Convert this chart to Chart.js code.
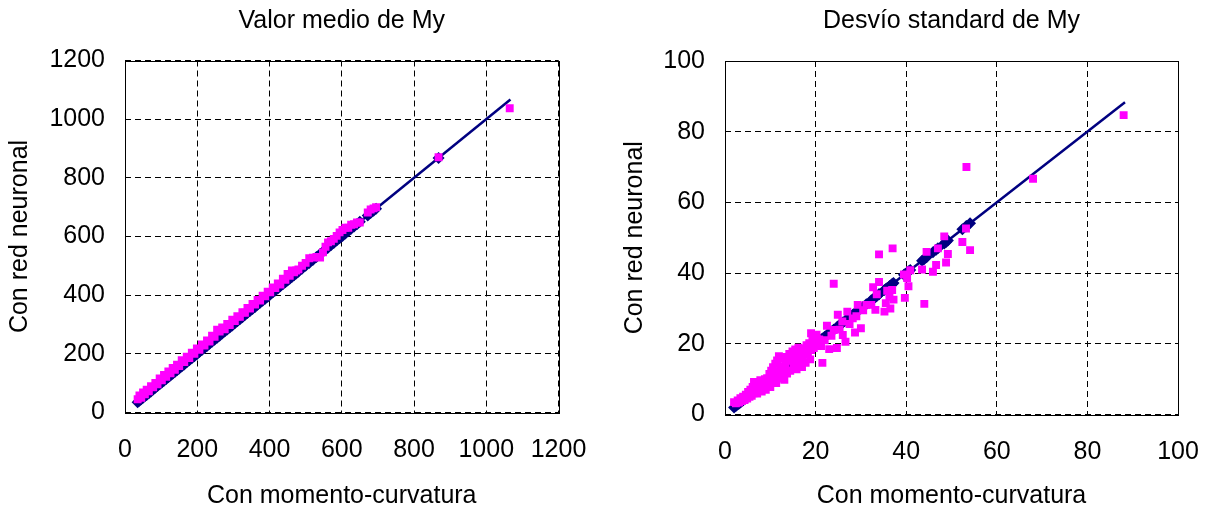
<!DOCTYPE html>
<html lang="es">
<head>
<meta charset="UTF-8">
<title>Valor medio y desvío standard de My</title>
<script src="https://cdn.jsdelivr.net/npm/chart.js"></script>
<style>
  body { margin: 0; background: #fff; }
  .panel { position: absolute; top: 0; width: 606px; height: 511px; }
</style>
</head>
<body>
<div class="panel" style="left:0"><canvas id="chartMedio" width="606" height="511"></canvas></div>
<div class="panel" style="left:606px"><canvas id="chartDesvio" width="606" height="511"></canvas></div>
<script>
// valor medio de My: momento-curvatura (x) vs red neuronal (y)
const medioX = [
  35, 40, 45, 50, 55, 60, 66, 72, 78, 84,
  90, 96, 102, 108, 114, 120, 126, 132, 138, 144,
  150, 157, 164, 171, 178, 185, 192, 199, 206, 213,
  220, 227, 234, 241, 248, 255, 262, 269, 276, 283,
  290, 297, 304, 311, 318, 325, 332, 339, 346, 353,
  360, 367, 374, 381, 388, 395, 402, 409, 416, 423,
  430, 437, 444, 450, 456, 462, 468, 474, 480, 490,
  500, 510, 520, 530, 540, 548, 555, 562, 570, 578,
  586, 594, 602, 610, 618, 626, 634, 642, 650, 672,
  680, 688, 695, 868, 1065
];
const medioY = [
  45, 58, 50, 68, 62, 78, 72, 90, 86, 101,
  96, 116, 110, 128, 122, 140, 134, 152, 146, 163,
  158, 178, 172, 190, 186, 204, 200, 218, 214, 232,
  228, 246, 242, 262, 258, 282, 276, 290, 284, 302,
  298, 316, 312, 328, 326, 342, 340, 356, 354, 370,
  368, 384, 382, 398, 396, 412, 410, 426, 424, 440,
  436, 456, 452, 472, 466, 484, 478, 484, 488, 500,
  510, 526, 528, 530, 528, 546, 565, 580, 584, 592,
  602, 614, 622, 630, 630, 640, 642, 648, 648, 682,
  692, 696, 700, 870, 1037
];
// ends of the navy y = x line
const medioLineX = [35, 1067];

// desvío standard de My
const desvioX = [
  2, 2.4, 2.8, 3.1, 3.4, 3.7, 4, 4.3, 4.6, 4.9,
  5.1, 5.4, 5.6, 5.9, 6.1, 6.3, 6.4, 6.7, 6.9, 7.1,
  7.3, 7.6, 7.8, 8.1, 8.2, 8.5, 8.8, 9, 9.3, 9.5,
  9.8, 10, 10.2, 10.4, 10.6, 10.9, 11.1, 11.3, 11.5, 11.7,
  11.9, 12.1, 12.3, 12.5, 12.7, 12.9, 13.1, 13.3, 13.5, 13.7,
  14, 14.2, 14.4, 14.6, 14.9, 15.1, 15.3, 15.5, 15.8, 16,
  16.2, 16.5, 16.8, 17, 17.2, 17.5, 17.8, 18, 18.3, 18.6,
  18.8, 19, 19.3, 19.6, 19.9, 20.2, 20.5, 20.8, 21.2,
  19, 20.2, 21.1, 21.5, 22, 22.5, 23, 23.5, 24, 24,
  24.7, 24.9, 25.3, 25.9, 26, 26.6, 27, 27.5, 28.2, 28.7,
  29, 29.3, 30, 30.5, 31.2, 32.3, 32.7, 33.2, 33.5, 34,
  34, 35.2, 35.5, 35.8, 36.3, 36.5, 36.9, 37, 37.2, 39.5,
  39.7, 40.2, 40.5, 40.9, 43.5, 44, 44.5, 45.9, 46.6, 47,
  48.4, 48.8, 49.2, 52.4, 53.2, 53.3, 54.1, 68, 88
];
const desvioY = [
  3.5, 3.2, 4, 3.4, 4.6, 3.8, 5, 4.1, 5.6, 4.5,
  6.4, 5, 7, 5.3, 7.8, 6, 9.2, 6.6, 8.4, 5.9,
  9, 6.9, 9.7, 6.5, 8.2, 7.4, 10, 7, 10.3, 8.3,
  11.5, 7.8, 12.4, 9.6, 13.4, 10.8, 14.4, 8.9, 15.3, 12,
  16.5, 10.2, 13.6, 11.3, 15.8, 12.8, 9.8, 14.2, 16.3, 11.6,
  15.2, 17.1, 12.4, 16.1, 17.8, 13.6, 15.6, 18.4, 12.8, 16.6,
  18.9, 14.8, 17.4, 13.4, 16.2, 18.7, 14.6, 19.6, 17, 20.2,
  15.6, 18.2, 21.3, 18.8, 20.6, 22.6, 19.8, 21.2, 19.4,
  23, 21.6, 20.2, 14.6, 21, 25.1, 18.5, 22.3, 23.9, 37,
  18.8, 28.2, 24, 26.3, 22.5, 20.6, 29.1, 25.6, 27.2, 23.2,
  27.8, 31, 24.4, 29.5, 31, 31, 36, 29.6, 34, 37.5,
  45.3, 29.1, 31.5, 35, 33.3, 30, 35.2, 47, 32.5, 39.6,
  33, 38.6, 36.3, 40.8, 41, 31.3, 46, 40.4, 42.3, 47,
  50.4, 43, 45.4, 48.8, 52.6, 70, 46.5, 66.7, 84.7
];
const desvioLineX = [2, 88.3];

const xTitle = 'Con momento-curvatura';
const yTitle = 'Con red neuronal';

const FONT = "'Liberation Sans', Arial, sans-serif";
const MAGENTA = '#ff00ff';
const NAVY = '#000080';

// solid frame round the plot area (grid lines are dashed)
const plotFrame = {
  id: 'plotFrame',
  beforeDatasetsDraw(chart) {
    const { ctx, chartArea: a } = chart;
    ctx.save();
    ctx.strokeStyle = '#000';
    ctx.lineWidth = 1;
    ctx.strokeRect(Math.round(a.left) + 0.5, Math.round(a.top) + 0.5,
      Math.round(a.right - a.left), Math.round(a.bottom - a.top));
    ctx.restore();
  }
};

function font() {
  return { family: FONT, size: 25, weight: 'normal', lineHeight: 1.2 };
}

function makeChart(id, xs, ys, lineX, markMax, axisMax, step, title, g) {
  const pts = xs.map((x, i) => ({ x, y: ys[i] }));
  // navy markers sit on the y = x line under the magenta squares (none on the far outliers)
  const marks = xs.filter(x => x <= markMax).map(x => ({ x, y: x }));
  const line = lineX.map(x => ({ x, y: x }));
  return new Chart(document.getElementById(id), {
    type: 'scatter',
    data: {
      datasets: [
        { label: yTitle, data: pts, pointStyle: 'rect', pointRadius: 5.6,
          pointBackgroundColor: MAGENTA, pointBorderWidth: 0, showLine: false },
        { label: 'y = x', data: marks, pointStyle: 'rectRot', pointRadius: 6,
          pointBackgroundColor: NAVY, pointBorderWidth: 0, showLine: false },
        { label: xTitle, data: line, showLine: true, borderColor: NAVY, borderWidth: 2.5, pointRadius: 0 }
      ]
    },
    options: {
      responsive: false,
      animation: false,
      layout: { padding: { left: 0, right: g.padRight, top: 0, bottom: 0 } },
      plugins: {
        legend: { display: false },
        tooltip: { enabled: false },
        title: { display: true, text: title, color: '#000', font: font(), fullSize: false,
                 padding: { top: g.titleTop, bottom: g.titleBottom } }
      },
      scales: {
        x: {
          type: 'linear', min: 0, max: axisMax,
          ticks: { stepSize: step, color: '#000', font: font(), padding: g.xTickPad, maxRotation: 0,
                   autoSkip: false, callback: v => String(v) },
          grid: { color: '#000', lineWidth: 1, drawTicks: false },
          border: { display: false, dash: [6, 4] },
          title: { display: true, text: xTitle, color: '#000', font: font(), padding: { top: 0, bottom: g.xTitlePad } },
          // fixed height; the last label must not widen the right margin
          afterFit: s => { s.height = g.xHeight; s.paddingLeft = 0; s.paddingRight = 0; }
        },
        y: {
          type: 'linear', min: 0, max: axisMax,
          ticks: { stepSize: step, color: '#000', font: font(), padding: g.yTickPad,
                   autoSkip: false, callback: v => String(v) },
          grid: { color: '#000', lineWidth: 1, drawTicks: false },
          border: { display: false, dash: [6, 4] },
          title: { display: true, text: yTitle, color: '#000', font: font(), padding: { top: g.yTitlePad, bottom: 0 } },
          afterFit: s => { s.width = g.yWidth; }
        }
      }
    },
    plugins: [plotFrame]
  });
}

makeChart('chartMedio', medioX, medioY, medioLineX, 900, 1200, 200, 'Valor medio de My', {
  yWidth: 125, xHeight: 98.5, padRight: 47.5, titleTop: 6, titleBottom: 24.5,
  xTickPad: 23, yTickPad: 20, yTitlePad: 5.3, xTitlePad: 0
});

makeChart('chartDesvio', desvioX, desvioY, desvioLineX, 60, 100, 20, 'Desvío standard de My', {
  yWidth: 119, xHeight: 96.5, padRight: 34, titleTop: 6, titleBottom: 25,
  xTickPad: 22.5, yTickPad: 20, yTitlePad: 14, xTitlePad: 0
});
</script>
</body>
</html>
